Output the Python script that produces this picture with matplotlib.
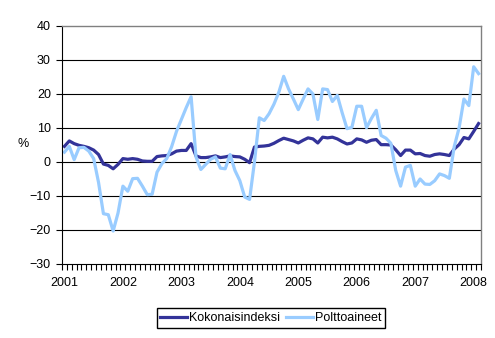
import matplotlib.pyplot as plt
import numpy as np

plt.rcParams["font.family"] = ["Liberation Sans", "DejaVu Sans"]
plt.rcParams["font.size"] = 9

# monthly change, %, Jan 2001 - Feb 2008
kokonaisindeksi = [
    4.6, 6.2, 5.4, 4.9, 4.6, 4.2, 3.5, 2.2, -0.6, -1.0, -2.0, -0.7,
    1.0, 0.8, 1.0, 0.8, 0.3, 0.2, 0.2, 1.6, 1.8, 1.9, 2.4, 3.2,
    3.4, 3.4, 5.4, 1.8, 1.3, 1.3, 1.5, 1.8, 1.3, 1.5, 1.8, 1.6,
    1.5, 0.8, -0.2, 4.4, 4.6, 4.7, 4.9, 5.5, 6.3, 7.0, 6.6, 6.2,
    5.6, 6.4, 7.1, 6.8, 5.6, 7.3, 7.1, 7.3, 6.8, 6.0, 5.3, 5.6,
    6.8, 6.5, 5.8, 6.4, 6.6, 5.1, 5.1, 5.0, 3.6, 1.9, 3.5, 3.5,
    2.4, 2.5, 1.9, 1.7, 2.2, 2.4, 2.2, 1.9, 3.8, 5.1, 7.2, 6.8,
    9.0, 11.3,
]
polttoaineet = [
    2.9, 4.6, 0.7, 4.2, 4.3, 3.2, 1.0, -6.0, -15.2, -15.5, -20.3, -15.0,
    -7.1, -8.6, -4.9, -4.8, -7.1, -9.6, -9.5, -3.0, -0.5, 1.0, 4.5, 9.0,
    12.5, 16.0, 19.2, 1.5, -2.2, -0.7, 0.8, 1.5, -1.8, -2.0, 2.2, -2.5,
    -5.5, -10.3, -11.0, 0.0, 13.0, 12.2, 14.2, 17.0, 20.5, 25.2, 21.5, 18.5,
    15.4, 18.5, 21.5, 20.0, 12.5, 21.5, 21.3, 17.8, 19.6, 14.5, 9.8, 10.2,
    16.4, 16.4, 10.1, 12.8, 15.2, 7.8, 7.0, 5.5, -2.5, -7.1, -1.5, -1.0,
    -7.1, -5.0, -6.5, -6.6, -5.5, -3.5, -4.0, -4.8, 4.5, 10.0, 18.5, 16.6,
    28.0, 26.0,
]
years = ["2001", "2002", "2003", "2004", "2005", "2006", "2007", "2008"]

x = np.arange(len(kokonaisindeksi))

fig = plt.figure(figsize=(4.95, 3.38), dpi=100)
ax = fig.add_axes([62/495, 1-264/338, 419/495, 238/338])

ax.plot(x, kokonaisindeksi, color="#333399", linewidth=2.3, label="Kokonaisindeksi")
ax.plot(x, polttoaineet, color="#99CCFF", linewidth=2.3, label="Polttoaineet")

ax.set_xlim(-0.5, len(x) - 0.5)
ax.set_ylim(-30, 40)
ax.set_yticks(np.arange(-30, 41, 10))
for v in range(-20, 40, 10):
    ax.axhline(v, color="black", linewidth=0.8, zorder=0)

ax.set_xticks(np.arange(0, len(x), 12))
ax.set_xticklabels(years)
ax.set_xticks(np.arange(-0.5, len(x), 1), minor=True)
ax.tick_params(axis="x", which="major", length=0, pad=9)
ax.tick_params(axis="x", which="minor", length=4, width=0.8, direction="out")
ax.tick_params(axis="y", length=4, width=0.8, direction="out", pad=4)

for s in ["left", "bottom"]:
    ax.spines[s].set_color("black")
    ax.spines[s].set_linewidth(0.8)
for s in ["top", "right"]:
    ax.spines[s].set_color("#808080")
    ax.spines[s].set_linewidth(1.0)

fig.text(23/495, 1-144/338, "%", ha="center", va="center")

fig.legend(loc="center", bbox_to_anchor=(271/495, 1-318/338), ncol=2,
           frameon=True, fancybox=False, edgecolor="black", framealpha=1,
           handlelength=2.1, handletextpad=0.2, columnspacing=0.5,
           borderpad=0.3, borderaxespad=0)

plt.savefig("out.png", dpi=100)
